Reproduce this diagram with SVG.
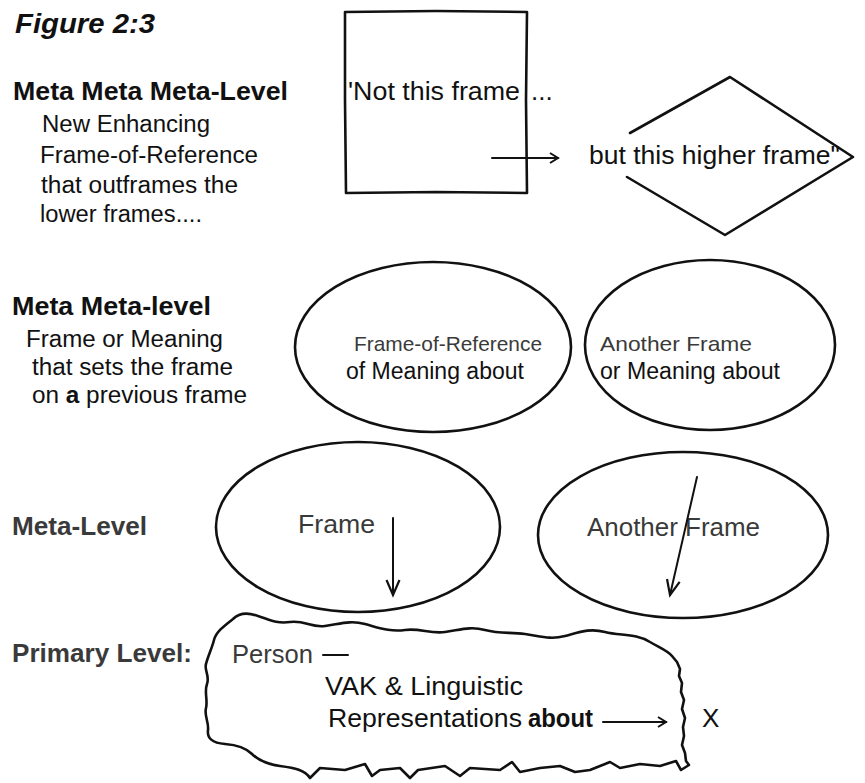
<svg xmlns="http://www.w3.org/2000/svg" width="865" height="783" viewBox="0 0 865 783">
  <style>
    text { font-family: "Liberation Sans", Arial, sans-serif; fill: #111; }
    .title { font-size: 28px; font-weight: bold; font-style: italic; }
    .level { font-size: 26px; font-weight: bold; }
    .note { font-size: 23px; }
    .big { font-size: 26px; }
    .mid { font-size: 23px; }
    .small { font-size: 21px; }
    .soft { fill: #3a3a3a; }
    .outline { fill: none; stroke: #111; stroke-width: 2.6; stroke-linejoin: round; stroke-linecap: round; }
    .thin { fill: none; stroke: #111; stroke-width: 2; stroke-linecap: round; }
  </style>
  <defs>
    <marker id="chevron" markerUnits="userSpaceOnUse" markerWidth="14" markerHeight="14" refX="9" refY="6" orient="auto">
      <path d="M1,1 L9,6 L1,11" fill="none" stroke="#111" stroke-width="2"/>
    </marker>
    <marker id="vee" markerUnits="userSpaceOnUse" markerWidth="20" markerHeight="20" refX="16" refY="8" orient="auto">
      <path d="M1,1.5 L16,8 L1,14.5" fill="none" stroke="#111" stroke-width="2.2"/>
    </marker>
  </defs>

  <rect width="865" height="783" fill="#fff"/>

  <!-- left column: figure title and level labels -->
  <g id="labels">
    <text class="title" x="15" y="33" textLength="140" lengthAdjust="spacingAndGlyphs">Figure 2:3</text>

    <text class="level" x="13" y="100" textLength="275" lengthAdjust="spacingAndGlyphs">Meta Meta Meta-Level</text>
    <text class="note" x="42" y="132" textLength="168" lengthAdjust="spacingAndGlyphs">New Enhancing</text>
    <text class="note" x="40" y="163" textLength="218" lengthAdjust="spacingAndGlyphs">Frame-of-Reference</text>
    <text class="note" x="41" y="193" textLength="197" lengthAdjust="spacingAndGlyphs">that outframes the</text>
    <text class="note" x="40" y="222" textLength="162" lengthAdjust="spacingAndGlyphs">lower frames....</text>

    <text class="level" x="12" y="315" textLength="199" lengthAdjust="spacingAndGlyphs">Meta Meta-level</text>
    <text class="note" x="26" y="347" textLength="197" lengthAdjust="spacingAndGlyphs">Frame or Meaning</text>
    <text class="note" x="32" y="375" textLength="201" lengthAdjust="spacingAndGlyphs">that sets the frame</text>
    <text class="note" x="32" y="403" textLength="215" lengthAdjust="spacingAndGlyphs">on <tspan font-weight="bold">a</tspan> previous frame</text>

    <text class="level soft" x="12" y="535" textLength="135" lengthAdjust="spacingAndGlyphs">Meta-Level</text>
    <text class="level soft" x="12" y="662" textLength="180" lengthAdjust="spacingAndGlyphs">Primary Level:</text>
  </g>

  <!-- meta meta meta-level: the square frame and the higher diamond frame -->
  <g id="not-this-frame">
    <path class="outline" d="M345,12 L436,11 L527,12 L526,100 L527,193 L436,192 L346,193 L345,100 Z"/>
    <text class="big" x="348" y="100" textLength="172" lengthAdjust="spacingAndGlyphs">'Not this frame</text>
    <text class="big" x="531" y="100">...</text>
  </g>

  <g id="higher-frame">
    <polyline class="outline" points="630,133 730,77 853,157 725,235 627,177"/>
    <text class="big" x="589" y="164" textLength="251" lengthAdjust="spacingAndGlyphs">but this higher frame"</text>
  </g>

  <!-- meta meta-level frames -->
  <g id="frame-of-reference">
    <ellipse class="outline" cx="433" cy="347" rx="138" ry="85"/>
    <text class="small soft" x="354" y="351" textLength="188" lengthAdjust="spacingAndGlyphs">Frame-of-Reference</text>
    <text class="mid" x="346" y="379" textLength="178" lengthAdjust="spacingAndGlyphs">of Meaning about</text>
  </g>

  <g id="another-frame-of-meaning">
    <ellipse class="outline" cx="710" cy="345" rx="125" ry="85"/>
    <text class="small soft" x="600" y="351" textLength="152" lengthAdjust="spacingAndGlyphs">Another Frame</text>
    <text class="mid" x="600" y="379" textLength="180" lengthAdjust="spacingAndGlyphs">or Meaning about</text>
  </g>

  <!-- meta-level frames -->
  <g id="frame">
    <ellipse class="outline" cx="358" cy="527" rx="142" ry="85"/>
    <text class="big soft" x="298" y="533" textLength="77" lengthAdjust="spacingAndGlyphs">Frame</text>
  </g>

  <g id="another-frame">
    <ellipse class="outline" cx="683" cy="535" rx="145" ry="83"/>
    <text class="big soft" x="587" y="536" textLength="173" lengthAdjust="spacingAndGlyphs">Another Frame</text>
  </g>

  <!-- primary level: the person's representations -->
  <g id="person">
    <path class="outline" d="M233,619
      C240,612 250,613 258,616 C268,619 276,624 290,622 C305,620 311,628 325,626
      C340,624 350,620 365,624 C380,628 390,632 405,630 C420,628 430,634 445,632
      C460,630 470,626 485,630 C500,634 510,632 525,634 C540,636 550,640 565,636
      C580,632 590,628 605,632 C620,636 636,633 650,642 C660,648 668,651 672,656
      L677,662 L680,669 L679,676 L682,683 L681,692 L684,700 L682,709 L685,718
      L683,727 L684,736 L682,745 L685,753 L686,761 L689,765 L681,770
      L676,761 L660,766 L640,764 L620,768 L610,762 L590,770 L575,772 L560,766
      L540,768 L520,772 L512,762 L500,770 L470,768 L460,776 L445,766 L418,770
      L410,778 L400,768 L380,770 L372,776 L365,764 L345,770 L320,768 L310,778
      C305,770 295,768 280,766 C266,764 258,760 252,754 C246,748 238,745 225,744
      C212,743 207,738 208,730 C209,722 204,716 206,708 C208,700 204,692 207,684
      C210,676 204,670 206,664 C208,656 212,648 214,640 C216,632 224,626 233,619 Z"/>
    <text class="big soft" x="232" y="663" textLength="81" lengthAdjust="spacingAndGlyphs">Person</text>
    <line class="thin" x1="323" y1="655" x2="348" y2="655"/>
    <text class="big" x="325" y="695" textLength="198" lengthAdjust="spacingAndGlyphs">VAK &amp; Linguistic</text>
    <text class="big" x="328" y="727" textLength="194" lengthAdjust="spacingAndGlyphs">Representations</text>
    <text class="big" x="528" y="727" font-weight="bold" textLength="65" lengthAdjust="spacingAndGlyphs">about</text>
  </g>

  <g id="x">
    <text class="big" x="702" y="727">X</text>
  </g>

  <!-- connectors -->
  <g id="connectors">
    <line class="thin" x1="492" y1="158" x2="558" y2="158" marker-end="url(#chevron)"/>
    <line class="thin" x1="393" y1="518" x2="393" y2="595" marker-end="url(#vee)"/>
    <line class="thin" x1="697" y1="477" x2="670" y2="595" marker-end="url(#vee)"/>
    <line class="thin" x1="603" y1="722" x2="666" y2="722" marker-end="url(#chevron)"/>
  </g>
</svg>
